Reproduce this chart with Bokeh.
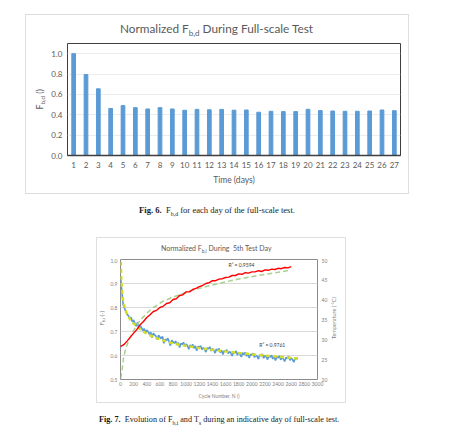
from bokeh.embed import file_html
from bokeh.layouts import column, row
from bokeh.models import (ColumnDataSource, Div, FixedTicker, Label, LinearAxis,
                          PrintfTickFormatter, Range1d, Spacer)
from bokeh.plotting import figure
from bokeh.resources import INLINE

# ---------------------------------------------------------------------------
# Fig. 6 data: normalized F_b,d for each day of the full-scale test
# ---------------------------------------------------------------------------
days = list(range(1, 28))
fbd = [1.00, 0.795, 0.655, 0.462, 0.490, 0.470, 0.457, 0.470, 0.457, 0.444,
       0.453, 0.449, 0.453, 0.445, 0.447, 0.425, 0.434, 0.431, 0.431, 0.454,
       0.441, 0.437, 0.434, 0.434, 0.437, 0.447, 0.440]
fbd_ticks = [0.0, 0.2, 0.4, 0.6, 0.8, 1.0]

# ---------------------------------------------------------------------------
# Fig. 7 data: F_b,i and surface temperature during the 5th test day
# ---------------------------------------------------------------------------
cycles = list(range(0, 2701, 20))
fbi = [
    0.930, 0.868, 0.812, 0.798, 0.784, 0.771, 0.766, 0.752, 0.760, 0.741,
    0.748, 0.733, 0.722, 0.738, 0.711, 0.724, 0.716, 0.703, 0.712, 0.695,
    0.706, 0.699, 0.688, 0.697, 0.674, 0.693, 0.686, 0.681, 0.666, 0.684,
    0.677, 0.670, 0.680, 0.651, 0.668, 0.662, 0.672, 0.658, 0.641, 0.664,
    0.657, 0.651, 0.660, 0.644, 0.654, 0.633, 0.650, 0.646, 0.655, 0.637,
    0.648, 0.641, 0.626, 0.644, 0.637, 0.646, 0.630, 0.640, 0.620, 0.638,
    0.634, 0.641, 0.625, 0.633, 0.627, 0.614, 0.632, 0.628, 0.636, 0.619,
    0.629, 0.623, 0.610, 0.627, 0.621, 0.629, 0.612, 0.622, 0.604, 0.620,
    0.617, 0.624, 0.608, 0.616, 0.611, 0.598, 0.615, 0.610, 0.619, 0.602,
    0.612, 0.606, 0.594, 0.611, 0.604, 0.613, 0.597, 0.607, 0.590, 0.605,
    0.602, 0.609, 0.592, 0.601, 0.596, 0.585, 0.603, 0.598, 0.606, 0.589,
    0.599, 0.594, 0.583, 0.600, 0.593, 0.601, 0.586, 0.596, 0.579, 0.594,
    0.591, 0.598, 0.582, 0.590, 0.586, 0.575, 0.592, 0.587, 0.596, 0.580,
    0.589, 0.583, 0.572, 0.590, 0.585, 0.592,
]

fbi_fit_n = [5, 10, 20, 40, 70, 100, 150, 200, 300, 400, 500, 600, 800, 1000,
             1200, 1400, 1600, 1800, 2000, 2200, 2400, 2600, 2700]
fbi_fit = [0.990, 0.935, 0.880, 0.830, 0.795, 0.772, 0.748, 0.733, 0.710, 0.690,
           0.678, 0.667, 0.650, 0.640, 0.631, 0.624, 0.617, 0.611, 0.605, 0.600,
           0.595, 0.590, 0.587]

temp_n = list(range(0, 2601, 50))
temp = [28.2, 28.7, 29.6, 30.6, 31.6, 32.5, 33.7, 34.5, 35.5, 36.2,
        37.0, 37.3, 38.0, 38.3, 39.0, 39.2, 40.0, 40.2, 41.0, 41.2,
        41.9, 41.9, 42.5, 42.8, 43.2, 43.5, 44.0, 44.2, 44.7, 44.7,
        45.1, 45.2, 45.5, 45.6, 46.0, 46.0, 46.4, 46.3, 46.7, 46.6,
        46.9, 46.9, 47.2, 47.0, 47.4, 47.3, 47.6, 47.5, 47.8, 47.7,
        48.0, 47.9, 48.2]

temp_fit_n = [5, 25, 45, 80, 140, 200, 300, 400, 500, 640, 800, 1000, 1200,
              1400, 1600, 1800, 2000, 2200, 2400, 2600]
temp_fit = [20.3, 22.5, 25.3, 27.8, 30.3, 32.3, 34.8, 36.6, 38.0, 39.5, 40.6,
            41.8, 42.8, 43.6, 44.4, 45.1, 45.7, 46.3, 46.8, 47.4]

cycle_ticks = list(range(0, 3001, 200))
fbi_ticks = [0.5, 0.6, 0.7, 0.8, 0.9, 1.0]
temp_ticks = [20, 25, 30, 35, 40, 45, 50]

r2_temp = "R² = 0.9594"
r2_fbi = "R² = 0.9761"

FONT = "Lato"
SERIF = "Liberation Serif"
GREY = "#595959"
LIGHT = "#7f7f7f"
BOX = "1px solid #dedede"


def style_axis(ax, size, color=GREY, standoff=4):
    ax.major_label_text_font = FONT
    ax.major_label_text_font_size = f"{size}px"
    ax.major_label_text_color = color
    ax.major_label_standoff = standoff
    ax.major_tick_line_color = None
    ax.minor_tick_line_color = None
    ax.major_tick_out = 0
    ax.major_tick_in = 0
    ax.minor_tick_out = 0
    ax.minor_tick_in = 0
    ax.axis_line_color = None


def title_div(html, width, height, pad_left, size, color=GREY):
    return Div(text=(
        f"<div style=\"font-family:{FONT};font-size:{size}px;color:{color};"
        f"white-space:nowrap;line-height:{height}px;padding-left:{pad_left}px\">"
        f"{html}</div>"), width=width, height=height, margin=0)


def vlabel_div(html, width, height, span, pad_left, pad_right, size, color=GREY):
    """Axis title reading bottom-to-top, centred over the first `span` px."""
    return Div(text=(
        f"<div style=\"display:flex;align-items:center;justify-content:center;"
        f"box-sizing:border-box;padding-left:{pad_left}px;"
        f"padding-right:{pad_right}px;width:{width}px;height:{span}px\">"
        f"<div style=\"writing-mode:vertical-rl;transform:rotate(180deg);"
        f"font-family:{FONT};font-size:{size}px;color:{color};"
        f"white-space:nowrap;line-height:{size + 2}px\">{html}</div></div>"),
        width=width, height=height, margin=0)


SUB = "<sub style=\"font-size:68%\">{}</sub>"

# ---------------------------------------------------------------------------
# Fig. 6 - daily bar chart
# ---------------------------------------------------------------------------
p1 = figure(width=360, height=151, x_range=Range1d(0.5, 27.5),
            y_range=Range1d(0, 1.1), output_backend="svg",
            toolbar_location=None, min_border_left=19, min_border_right=8,
            min_border_top=1, min_border_bottom=38)
p1.background_fill_color = "white"
p1.border_fill_color = "white"
p1.outline_line_color = "#3f3f3f"
p1.outline_line_width = 1

bars = ColumnDataSource(dict(day=days, fbd=fbd))
p1.vbar(x="day", top="fbd", width=0.3, source=bars, color="#5b9bd5")

style_axis(p1.xaxis[0], 8, standoff=6)
style_axis(p1.yaxis[0], 8, standoff=5)
p1.xaxis.ticker = FixedTicker(ticks=days)
p1.yaxis.ticker = FixedTicker(ticks=fbd_ticks)
p1.yaxis.formatter = PrintfTickFormatter(format="%.1f")
p1.xaxis.axis_line_color = "#3f3f3f"
p1.xaxis.axis_line_width = 1.5
p1.xaxis.axis_label = "Time (days)"
p1.xaxis.axis_label_text_font = FONT
p1.xaxis.axis_label_text_font_size = "8.5px"
p1.xaxis.axis_label_text_font_style = "normal"
p1.xaxis.axis_label_text_color = GREY
p1.xaxis.axis_label_standoff = 4
p1.xgrid.grid_line_color = None
p1.ygrid.ticker = FixedTicker(ticks=fbd_ticks)
p1.ygrid.grid_line_color = "#ececec"

t1 = title_div("Normalized F" + SUB.format("b,d") + " During Full-scale Test",
               382, 27, 94, 11.8)
y1 = vlabel_div("F" + SUB.format("b,d") + " ()", 22, 151, 114, 8, 0, 9)
box1 = column(t1, row(y1, p1, margin=0), margin=0,
              styles={"border": BOX, "background": "white"})

# ---------------------------------------------------------------------------
# Fig. 7 - F_b,i and temperature versus cycle number
# ---------------------------------------------------------------------------
p2 = figure(width=223, height=144, x_range=Range1d(0, 3000),
            y_range=Range1d(0.5, 1.0), output_backend="svg",
            toolbar_location=None, min_border_left=10, min_border_right=11,
            min_border_top=1, min_border_bottom=23)
p2.extra_y_ranges = {"temp": Range1d(20, 50)}
p2.background_fill_color = "white"
p2.border_fill_color = "white"
p2.outline_line_color = "#8c8c8c"
p2.outline_line_width = 1

force_src = ColumnDataSource(dict(n=cycles, f=fbi))
force_fit_src = ColumnDataSource(dict(n=fbi_fit_n, f=fbi_fit))
temp_src = ColumnDataSource(dict(n=temp_n, t=temp))
temp_fit_src = ColumnDataSource(dict(n=temp_fit_n, t=temp_fit))

p2.line("n", "f", source=force_src, line_color="#5b9bd5", line_width=1.6)
p2.line("n", "f", source=force_fit_src, line_color="#d6dc22", line_width=2.4,
        line_dash="4 3")
p2.line("n", "t", source=temp_fit_src, y_range_name="temp",
        line_color="#a9d08e", line_width=1.5, line_dash="5 3")
p2.line("n", "t", source=temp_src, y_range_name="temp",
        line_color="#ff0000", line_width=1.4)

style_axis(p2.xaxis[0], 5, color=LIGHT, standoff=2)
style_axis(p2.yaxis[0], 5, color=LIGHT, standoff=3)
p2.xaxis.ticker = FixedTicker(ticks=cycle_ticks)
p2.yaxis.ticker = FixedTicker(ticks=fbi_ticks)
p2.yaxis.formatter = PrintfTickFormatter(format="%.1f")
p2.xaxis.axis_label = "Cycle Number, N ()"
p2.xaxis.axis_label_text_font = FONT
p2.xaxis.axis_label_text_font_size = "5px"
p2.xaxis.axis_label_text_font_style = "normal"
p2.xaxis.axis_label_text_color = LIGHT
p2.xaxis.axis_label_standoff = 4

temp_axis = LinearAxis(y_range_name="temp", ticker=FixedTicker(ticks=temp_ticks))
style_axis(temp_axis, 5, color=LIGHT, standoff=4)
p2.add_layout(temp_axis, "right")

p2.xgrid.grid_line_color = None
p2.ygrid.ticker = FixedTicker(ticks=fbi_ticks)
p2.ygrid.grid_line_color = "#d9d9d9"

p2.add_layout(Label(x=1645, y=0.978, text=r2_temp, text_font=FONT,
                    text_font_size="5px", text_color="#404040",
                    text_baseline="middle"))
p2.add_layout(Label(x=2114, y=0.642, text=r2_fbi, text_font=FONT,
                    text_font_size="5px", text_color="#404040",
                    text_baseline="middle"))

t2 = title_div("Normalized F" + SUB.format("b,i") + " During&nbsp; 5th Test Day",
               248, 20, 64, 7)
y2 = vlabel_div("F" + SUB.format("b,i") + " (-)", 10, 144, 121, 2, 0, 6, LIGHT)
r2 = vlabel_div("Temperature ( °C)", 15, 144, 121, 0, 5, 5.5, LIGHT)
box2 = column(t2, row(y2, p2, r2, margin=0), margin=0,
              styles={"border": BOX, "background": "white"})

# ---------------------------------------------------------------------------
# Captions and page layout
# ---------------------------------------------------------------------------
CAP = ("<span style=\"font-family:'{f}';font-size:{s}px;color:#1a1a1a;"
       "white-space:nowrap;line-height:12px\">{t}</span>")
cap6 = Div(text=CAP.format(f=SERIF, s=8.6, t=(
    "<b>Fig. 6.</b>&nbsp;&nbsp;F" + SUB.format("b,d") +
    " for each day of the full-scale test.")), width=300, height=12, margin=0)
cap7 = Div(text=CAP.format(f=SERIF, s=8.2, t=(
    "<b>Fig. 7.</b>&nbsp;&nbsp;Evolution of F" + SUB.format("b,i") +
    " and T" + SUB.format("s") +
    " during an indicative day of full-scale test.")),
    width=350, height=12, margin=0)

page = column(
    Spacer(height=14, margin=0),
    row(Spacer(width=25, margin=0), box1, margin=0),
    Spacer(height=7, margin=0),
    row(Spacer(width=139, margin=0), cap6, margin=0),
    Spacer(height=24, margin=0),
    row(Spacer(width=96, margin=0), box2, margin=0),
    Spacer(height=7, margin=0),
    row(Spacer(width=99, margin=0), cap7, margin=0),
    margin=0,
)

open("out.html", "w").write(file_html(page, INLINE))
